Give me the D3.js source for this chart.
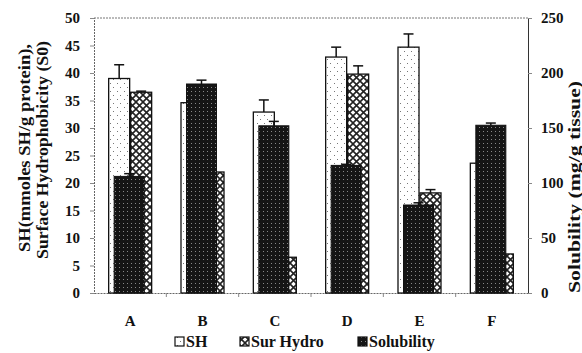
<!DOCTYPE html>
<html>
<head>
<meta charset="utf-8">
<script src="https://cdn.jsdelivr.net/npm/d3@7"></script>
<style>
  body { margin: 0; background: #fff; }
  .chart { width: 582px; height: 353px; }
  text { font-family: "Liberation Serif", "Times New Roman", serif; font-weight: bold; fill: #111; }
</style>
</head>
<body>
<div class="chart"></div>
<script>
// values
let categories = ["A", "B", "C", "D", "E", "F"];
let shValues = [39.0, 34.6, 32.9, 42.9, 44.7, 23.6];
let shErrors = [2.5, 0, 2.2, 1.8, 2.4, 0];
let hydroValues = [36.5, 22.0, 6.5, 39.8, 18.2, 7.1];
let hydroErrors = [0.2, 0, 0, 1.5, 0.6, 0];
let solValues = [106, 190, 152, 116, 80, 152.5];
let solErrors = [2.5, 3.5, 4, 1, 2, 2];
let leftTicks = [0, 5, 10, 15, 20, 25, 30, 35, 40, 45, 50];
let rightTicks = [0, 50, 100, 150, 200, 250];
let legendLabels = ["SH", "Sur Hydro", "Solubility"];

function init() {
    let margin = { top: 18, right: 54, bottom: 60, left: 94 };
    let width = 582 - margin.left - margin.right;
    let height = 353 - margin.top - margin.bottom;

    let svg = d3.select(".chart").append("svg")
        .attr("width", 582)
        .attr("height", 353);

    // fill patterns like the scanned print
    let defs = svg.append("defs");
    let dots = defs.append("pattern").attr("id", "dots")
        .attr("patternUnits", "userSpaceOnUse").attr("width", 7).attr("height", 8);
    dots.append("rect").attr("width", 7).attr("height", 8).attr("fill", "#fff");
    dots.append("rect").attr("x", 2).attr("y", 1).attr("width", 1).attr("height", 1).attr("fill", "#777");
    dots.append("rect").attr("x", 5).attr("y", 5).attr("width", 1).attr("height", 1).attr("fill", "#777");

    let hatch = defs.append("pattern").attr("id", "hatch")
        .attr("patternUnits", "userSpaceOnUse").attr("width", 7).attr("height", 7);
    hatch.append("rect").attr("width", 7).attr("height", 7).attr("fill", "#fff");
    hatch.append("path").attr("d", "M0,0L7,7M7,0L0,7")
        .attr("stroke", "#222").attr("stroke-width", 1.6);

    let dark = defs.append("pattern").attr("id", "dark")
        .attr("patternUnits", "userSpaceOnUse").attr("width", 4).attr("height", 4);
    dark.append("rect").attr("width", 4).attr("height", 4).attr("fill", "#151515");
    dark.append("rect").attr("x", 1).attr("y", 1).attr("width", 1).attr("height", 1).attr("fill", "#888");

    let plot = svg.append("g").attr("class", "plot")
        .attr("transform", `translate(${margin.left},${margin.top})`);

    let xScale = d3.scaleBand().domain(categories).range([0, width]);
    let yLeft = d3.scaleLinear().domain([0, 50]).range([height, 0]);
    let yRight = d3.scaleLinear().domain([0, 250]).range([height, 0]);

    // frame: top, left, bottom dotted grey, right solid
    plot.append("line").attr("x1", 0).attr("x2", width).attr("y1", 0).attr("y2", 0)
        .attr("stroke", "#777").attr("stroke-dasharray", "2,1");

    let xAxis = plot.append("g").classed("axis x-axis", true)
        .attr("transform", `translate(0,${height})`)
        .call(d3.axisBottom(xScale).tickSize(0).tickPadding(22));
    xAxis.select(".domain").attr("stroke", "#666").attr("stroke-dasharray", "2,1");
    xAxis.selectAll("text").attr("font-size", 15).attr("fill", "#111");
    // ticks at band edges
    plot.append("g").selectAll("line")
        .data(categories.slice(1))
        .join("line")
        .attr("x1", d => xScale(d)).attr("x2", d => xScale(d))
        .attr("y1", height).attr("y2", height + 4)
        .attr("stroke", "#888");

    let yAxis = plot.append("g").classed("axis y-axis", true)
        .call(d3.axisLeft(yLeft).tickValues(leftTicks).tickSize(4).tickPadding(10));
    yAxis.select(".domain").attr("stroke", "#666").attr("stroke-dasharray", "2,1");
    yAxis.selectAll(".tick line").attr("stroke", "#888");
    yAxis.selectAll("text").attr("font-size", 15).attr("fill", "#111");

    let yAxis2 = plot.append("g").classed("axis y-axis-right", true)
        .attr("transform", `translate(${width},0)`)
        .call(d3.axisRight(yRight).tickValues(rightTicks).tickSize(4).tickPadding(9));
    yAxis2.select(".domain").attr("stroke", "#333");
    yAxis2.selectAll(".tick line").attr("stroke", "#888");
    yAxis2.selectAll("text").attr("font-size", 15).attr("fill", "#111");

    let bw = 21;
    let center = d => xScale(d) + xScale.bandwidth() / 2;

    function errorBars(values, errs, scale, xMid) {
        let g = plot.append("g");
        categories.forEach((c, i) => {
            if (!errs[i]) return;
            let x = xMid(c);
            let y0 = scale(values[i]);
            let y1 = scale(values[i] + errs[i]);
            g.append("line").attr("x1", x).attr("x2", x).attr("y1", y0).attr("y2", y1)
                .attr("stroke", "#111").attr("stroke-width", 1.5);
            g.append("line").attr("x1", x - 5).attr("x2", x + 5).attr("y1", y1).attr("y2", y1)
                .attr("stroke", "#111").attr("stroke-width", 1.5);
        });
    }

    // SH bars
    plot.append("g").selectAll("rect")
        .data(shValues)
        .join("rect")
        .attr("x", (d, i) => center(categories[i]) - bw - 0.5)
        .attr("y", d => yLeft(d))
        .attr("width", bw)
        .attr("height", d => height - yLeft(d))
        .attr("fill", "url(#dots)")
        .attr("stroke", "#111").attr("stroke-width", 1.3);
    errorBars(shValues, shErrors, yLeft, c => center(c) - bw / 2 - 0.5);

    // Surface hydrophobicity bars
    plot.append("g").selectAll("rect")
        .data(hydroValues)
        .join("rect")
        .attr("x", (d, i) => center(categories[i]) + 0.5)
        .attr("y", d => yLeft(d))
        .attr("width", bw)
        .attr("height", d => height - yLeft(d))
        .attr("fill", "url(#hatch)")
        .attr("stroke", "#111").attr("stroke-width", 1.3);
    errorBars(hydroValues, hydroErrors, yLeft, c => center(c) + bw / 2 + 0.5);

    // Solubility bars on the right axis, drawn in front
    plot.append("g").selectAll("rect")
        .data(solValues)
        .join("rect")
        .attr("x", (d, i) => center(categories[i]) - 16)
        .attr("y", d => yRight(d))
        .attr("width", 30)
        .attr("height", d => height - yRight(d))
        .attr("fill", "url(#dark)")
        .attr("stroke", "#111").attr("stroke-width", 1);
    errorBars(solValues, solErrors, yRight, c => center(c) - 1);

    // axis titles
    svg.append("text")
        .attr("transform", "translate(30,148) rotate(-90)")
        .attr("text-anchor", "middle")
        .attr("font-size", 16)
        .attr("textLength", 208).attr("lengthAdjust", "spacingAndGlyphs")
        .text("SH(mmoles SH/g protein),");
    svg.append("text")
        .attr("transform", "translate(48,150) rotate(-90)")
        .attr("text-anchor", "middle")
        .attr("font-size", 16)
        .attr("textLength", 218).attr("lengthAdjust", "spacingAndGlyphs")
        .text("Surface Hydrophobicity (S0)");
    svg.append("text")
        .attr("transform", "translate(580,187) rotate(-90)")
        .attr("text-anchor", "middle")
        .attr("font-size", 16)
        .attr("textLength", 212).attr("lengthAdjust", "spacingAndGlyphs")
        .text("Solubility (mg/g tissue)");

    // legend
    let legendX = [175, 240, 358];
    let legendFill = ["url(#dots)", "url(#hatch)", "url(#dark)"];
    let legend = svg.append("g").attr("class", "legend");
    legendLabels.forEach((label, i) => {
        legend.append("rect")
            .attr("x", legendX[i]).attr("y", 337)
            .attr("width", 9).attr("height", 9)
            .attr("fill", legendFill[i])
            .attr("stroke", "#111").attr("stroke-width", 1.2);
        legend.append("text")
            .attr("x", legendX[i] + 11).attr("y", 347)
            .attr("font-size", 16)
            .text(label);
    });
}

init();
</script>
</body>
</html>
